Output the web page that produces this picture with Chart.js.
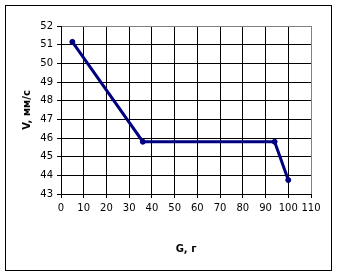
<!DOCTYPE html>
<html>
<head>
<meta charset="utf-8">
<script src="https://cdn.jsdelivr.net/npm/chart.js@4"></script>
<style>
  html, body { margin: 0; padding: 0; background: #fff; }
  #wrap { width: 337px; height: 276px; position: relative; }
</style>
</head>
<body>
<div id="wrap"><canvas id="grafik"></canvas></div>
<script>
// G, г
const massaG = [5, 36, 94, 100];
// V, мм/с
const skorostV = [51.15, 45.8, 45.8, 43.75];
const tikiX = [0, 10, 20, 30, 40, 50, 60, 70, 80, 90, 100, 110];
const tikiY = [43, 44, 45, 46, 47, 48, 49, 50, 51, 52];

const ramka = {
    id: 'ramka',
    beforeDraw(chart) {
        const c = chart.ctx;
        c.save();
        c.fillStyle = '#fff';
        c.fillRect(0, 0, chart.width, chart.height);
        c.strokeStyle = '#000';
        c.lineWidth = 1;
        c.strokeRect(5.5, 5.5, 326, 265);
        c.restore();
    }
};

const ctx = document.getElementById('grafik');
new Chart(ctx, {
    type: 'scatter',
    data: {
        datasets: [
            {
                data: massaG.map((g, i) => ({x: g, y: skorostV[i]})),
                showLine: true,
                borderColor: '#000080',
                backgroundColor: '#000080',
                borderWidth: 3,
                pointRadius: 2.5,
                pointBorderWidth: 1,
                pointHoverRadius: 2.5
            }
        ]
    },
    options: {
        responsive: true,
        maintainAspectRatio: false,
        animation: false,
        layout: {
            padding: {left: 17, right: 26, top: 26, bottom: 17}
        },
        plugins: {
            legend: {display: false},
            tooltip: {enabled: false}
        },
        scales: {
            x: {
                type: 'linear',
                min: 0,
                max: 110,
                afterBuildTicks: s => { s.ticks = tikiX.map(v => ({value: v})) },
                afterFit: s => { s.height = 65 },
                border: {color: '#000', width: 1},
                grid: {
                    color: c => c.tick && c.tick.value === 110 ? '#808080' : '#000',
                    tickColor: '#000',
                    tickLength: 4
                },
                ticks: {
                    color: '#000',
                    padding: 4,
                    maxRotation: 0,
                    autoSkip: false,
                    font: {family: 'DejaVu Sans', size: 10}
                },
                title: {
                    display: true,
                    text: 'G, г',
                    color: '#000',
                    padding: {top: 4, bottom: 4},
                    font: {family: 'DejaVu Sans', size: 10, weight: 'bold'}
                }
            },
            y: {
                type: 'linear',
                min: 43,
                max: 52,
                afterBuildTicks: s => { s.ticks = tikiY.map(v => ({value: v})) },
                afterFit: s => { s.width = 44 },
                border: {color: '#000', width: 1},
                grid: {
                    color: c => c.tick && c.tick.value === 52 ? '#808080' : '#000',
                    tickColor: '#000',
                    tickLength: 4
                },
                ticks: {
                    color: '#000',
                    padding: 4,
                    autoSkip: false,
                    font: {family: 'DejaVu Sans', size: 10}
                },
                title: {
                    display: true,
                    text: 'V, мм/с',
                    color: '#000',
                    padding: {top: 4, bottom: 4},
                    font: {family: 'DejaVu Sans', size: 10, weight: 'bold'}
                }
            }
        }
    },
    plugins: [ramka]
});
</script>
</body>
</html>
